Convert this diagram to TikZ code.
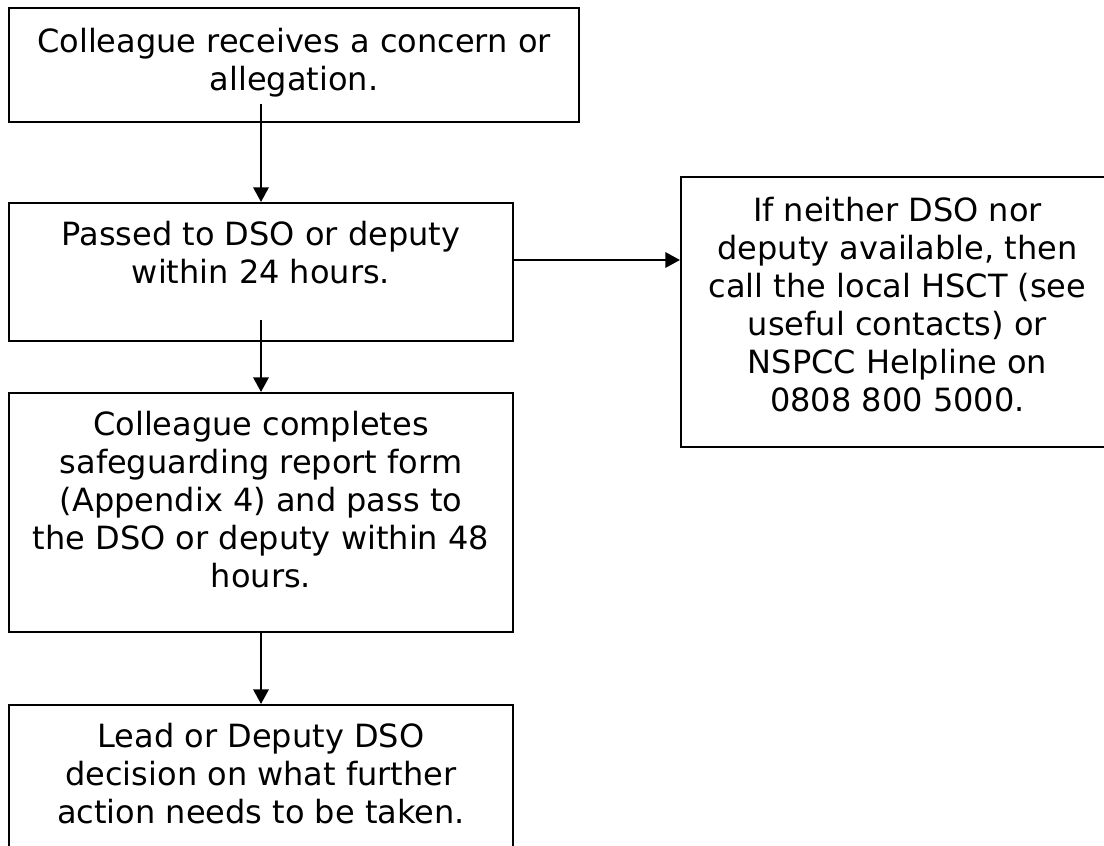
\documentclass[tikz,border=0pt]{standalone}
\usepackage{fontspec}
\setmainfont{DejaVu Sans}
\usetikzlibrary{arrows.meta,calc}
\begin{document}
\begin{tikzpicture}[x=0.75pt,y=-0.75pt,
  box/.style={draw=black,line width=1.5pt,rectangle,inner sep=0pt},
  txt/.style={align=center,inner sep=0pt,anchor=base,
    font=\fontsize{24pt}{28.5pt}\selectfont},
  conn/.style={line width=1.75pt,-{Triangle[width=11.5pt,length=11pt]}}]
\useasboundingbox (0,0) rectangle (1104,846);
\begin{scope}
\clip (0,0) rectangle (1104,846);
% boxes
\node[box,minimum width=427.5pt,minimum height=85.5pt] (b1) at (294,65) {};
\node[box,minimum width=378pt,minimum height=103.5pt] (b2) at (261,272) {};
\node[box,minimum width=378pt,minimum height=179.25pt] (b3) at (261,512.5) {};
\node[box,minimum width=378pt,minimum height=116.25pt] (b5) at (261,782.5) {};
\node[box,minimum width=324.75pt,minimum height=202.5pt] (b4) at (897.5,312) {};
\end{scope}
% texts (anchor base = last line baseline)
\node[txt] (t1) at (294,90) {Colleague receives a concern or\\allegation.};
\node[txt] (t2) at (261,283) {Passed to DSO or deputy\\within 24 hours.};
\node[txt] (t3) at (261,587) {Colleague completes\\safeguarding report form\\(Appendix 4) and pass to\\the DSO or deputy within 48\\hours.};
\node[txt] (t5) at (261,823) {Lead or Deputy DSO\\decision on what further\\action needs to be taken.};
\node[txt] (t4) at (897.5,411) {If neither DSO nor\\deputy available, then\\call the local HSCT (see\\useful contacts) or\\NSPCC Helpline on\\0808 800 5000.};
% connectors
\coordinate (s1) at (261,104);
\coordinate (s2) at (261,320);
\draw[conn] (s1) -- (b2.north);
\draw[conn] (s2) -- (b3.north);
\draw[conn] (b3.south) -- (b5.north);
\draw[conn] ([yshift=9pt]b2.east) -- ([yshift=9pt]b2.east -| b4.west);
\end{tikzpicture}
\end{document}
